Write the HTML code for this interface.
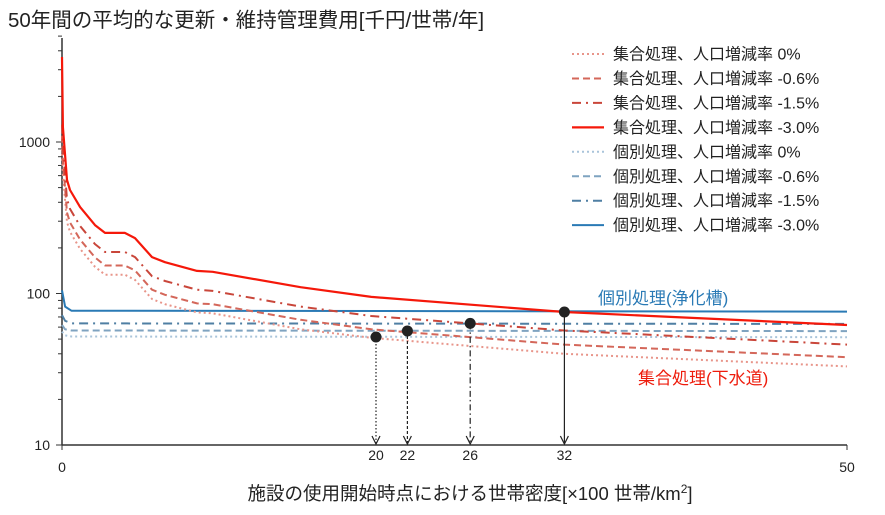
<!DOCTYPE html>
<html><head><meta charset="utf-8"><style>
body{margin:0;background:#fff;}
svg{display:block;font-family:"Liberation Sans","Noto Sans CJK JP",sans-serif;}
</style></head><body>
<svg id="chart" width="885" height="515" viewBox="0 0 885 515">
<text x="8" y="27" font-size="20.5" fill="#222">50年間の平均的な更新・維持管理費用[千円/世帯/年]</text>
<text x="470" y="500" font-size="18.5" fill="#222" text-anchor="middle">施設の使用開始時点における世帯密度[×100 世帯/km<tspan font-size="12" dy="-7">2</tspan><tspan dy="7">]</tspan></text>
<g id="axes"></g>
<g id="series"></g>
<g id="marks"></g>
<text x="598" y="304" font-size="17" fill="#2a7ab5">個別処理(浄化槽)</text>
<text x="638" y="384" font-size="17" fill="#ee1c0c">集合処理(下水道)</text>
<g id="legend"></g>
</svg>
<script>
const redX = [0,0.06,0.32,0.51,1.15,2.1,2.74,4.0,4.65,5.73,6.56,8.6,9.6,15.2,19.7,32,50];
const red30 = [3640,1256,561,482,372,283,251,251,232,174,161,141,139,110,95,75.5,62];
const red15 = [1300,900,420,362,279,212,188,188,174,130,121,106,104,82,71,57,46];
const red06 = [1100,750,342,294,227,173,153,153,142,106,98,86,85,67,58,46,38];
const red00 = [900,600,297,255,197,150,133,133,123,92,85,75,74,58,51,40,33];
const blueX = [0,0.2,0.6,50];
const blue30 = [105,82,77,76];
const blue15 = [72,66,63.5,63];
const blue06 = [62,58,57,56.5];
const blue00 = [56,53,52,51.5];
const crossX = [20,22,26,32];
const crossY = [51.6,56.6,63.5,75.5];
const yTickLabels = [10,100,1000];
const xEndLabels = [0,50];
const legendLabels = ["集合処理、人口増減率 0%","集合処理、人口増減率 -0.6%","集合処理、人口増減率 -1.5%","集合処理、人口増減率 -3.0%","個別処理、人口増減率 0%","個別処理、人口増減率 -0.6%","個別処理、人口増減率 -1.5%","個別処理、人口増減率 -3.0%"];

const NS="http://www.w3.org/2000/svg";
const X0=62,X1=847,Y10=445,DEC=151.5;
function sx(v){return X0+(v/50)*(X1-X0);}
function sy(v){return Y10-DEC*Math.log10(v/10);}
function mk(tag,attrs,parent){const e=document.createElementNS(NS,tag);for(const k in attrs)e.setAttribute(k,attrs[k]);parent.appendChild(e);return e;}
const axes=document.getElementById('axes');
let ax=mk('line',{x1:X0,y1:38,x2:X0,y2:Y10,stroke:'#333','stroke-width':1.5},axes);


let bx=mk('line',{x1:X0,y1:Y10,x2:X1,y2:Y10,stroke:'#333','stroke-width':1.5},axes);


for(let d=10;d<=1000;d*=10){for(let m=1;m<10;m++){const v=d*m;if(v>5000)break;const y=sy(v);
 const t=mk('line',{x1:X0-(m===1?6:4),y1:y,x2:X0,y2:y,stroke:'#333','stroke-width':1},axes);
 
 }}
yTickLabels.forEach(v=>{const t=mk('text',{x:X0-12,y:sy(v)+5,'font-size':14,'text-anchor':'end',fill:'#222'},axes);t.textContent=v;
 
 });
xEndLabels.forEach(v=>{const t=mk('text',{x:sx(v),y:472,'font-size':14,'text-anchor':'middle',fill:'#222'},axes);t.textContent=v;
 
 
 const k=mk('line',{x1:sx(v),y1:Y10,x2:sx(v),y2:Y10+5,stroke:'#333','stroke-width':1},axes);
 
 });

const styles=[
 {c:'#e8958a',d:'2 3',w:2},{c:'#d4675a',d:'7 4',w:2},{c:'#c9463a',d:'9 5 2 5',w:2},{c:'#f5180a',d:'',w:2.2},
 {c:'#a9c4da',d:'2 3',w:2},{c:'#7fa3c0',d:'7 4',w:2},{c:'#4f7fa3',d:'9 5 2 5',w:2},{c:'#2a7ab5',d:'',w:2}];
const seriesData=[[redX,red00],[redX,red06],[redX,red15],[redX,red30],[blueX,blue00],[blueX,blue06],[blueX,blue15],[blueX,blue30]];
const names=['collective-0','collective-minus-0-6','collective-minus-1-5','collective-minus-3-0','individual-0','individual-minus-0-6','individual-minus-1-5','individual-minus-3-0'];
const sg=document.getElementById('series');
[4,5,6,7,0,1,2,3].forEach(i=>{const [xs,ys]=seriesData[i];const s=styles[i];
 const d=xs.map((x,j)=>(j?'L':'M')+sx(x).toFixed(1)+','+sy(ys[j]).toFixed(1)).join(' ');
 const p=mk('path',{d:d,fill:'none',stroke:s.c,'stroke-width':s.w,'stroke-dasharray':s.d,'stroke-linejoin':'round'},sg);
 
 });

const mg=document.getElementById('marks');
const arrowDash=['1.5 2','3 2','6 3 1.5 3',''];
crossX.forEach((x,i)=>{const px=sx(x),py=sy(crossY[i]);
 const l=mk('line',{x1:px,y1:py,x2:px,y2:Y10-1,stroke:'#222','stroke-width':1.2,'stroke-dasharray':arrowDash[i]},mg);
 
 
 const h=mk('path',{d:`M${px-4},${Y10-9} L${px},${Y10-1} L${px+4},${Y10-9}`,fill:'none',stroke:'#222','stroke-width':1.2},mg);
 
 
 const c=mk('circle',{cx:px,cy:py,r:5.5,fill:'#222'},mg);
 
 
 const t=mk('text',{x:px,y:460,'font-size':14,'text-anchor':'middle',fill:'#222'},mg);t.textContent=x;
 
 });

const lg=document.getElementById('legend');
legendLabels.forEach((lab,i)=>{const y=54+i*24.45;const s=styles[i];
 const l=mk('line',{x1:572,y1:y,x2:604,y2:y,stroke:s.c,'stroke-width':s.w,'stroke-dasharray':s.d},lg);
 
 
 const t=mk('text',{x:613,y:y+5.5,'font-size':16,fill:'#222'},lg);t.textContent=lab;
 
 });
</script>
</body></html>
